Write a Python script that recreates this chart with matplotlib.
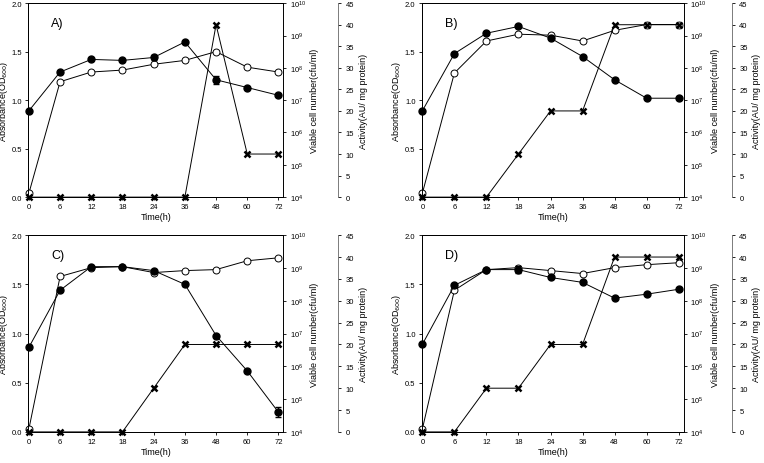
import numpy as np
import matplotlib.pyplot as plt
from matplotlib.ticker import LogLocator, NullLocator

plt.rcParams['font.family'] = ['Liberation Sans', 'DejaVu Sans']
plt.rcParams['font.size'] = 6

time_labels = ['0', '6', '12', '18', '24', '36', '48', '60', '72']

# viable cell number, log10(cfu/ml)  (filled circles)
cells_A = [6.67, 7.87, 8.26, 8.23, 8.32, 8.80, 7.63, 7.39, 7.15]
cells_B = [6.67, 8.44, 9.07, 9.28, 8.92, 8.35, 7.63, 7.06, 7.06]
cells_C = [6.58, 8.32, 9.04, 9.04, 8.92, 8.50, 6.94, 5.86, 4.60]
cells_D = [6.67, 8.47, 8.95, 8.95, 8.71, 8.56, 8.08, 8.20, 8.35]
cells_err_A = [0, 0, 0, 0, 0.08, 0, 0.12, 0, 0]
cells_err_B = [0, 0, 0, 0, 0, 0, 0.05, 0, 0]
cells_err_C = [0.06, 0, 0, 0, 0, 0.05, 0, 0, 0.15]
cells_err_D = [0, 0, 0, 0.1, 0, 0, 0, 0, 0]

# absorbance OD600  (open circles)
od_A = [0.04, 1.19, 1.29, 1.31, 1.37, 1.41, 1.50, 1.34, 1.29]
od_B = [0.04, 1.28, 1.61, 1.68, 1.67, 1.61, 1.72, 1.78, 1.78]
od_C = [0.03, 1.58, 1.67, 1.68, 1.62, 1.64, 1.65, 1.74, 1.77]
od_D = [0.03, 1.44, 1.65, 1.67, 1.64, 1.61, 1.67, 1.70, 1.72]

# activity AU/mg protein  (crosses)
act_A = [0, 0, 0, 0, 0, 0, 40, 10, 10]
act_B = [0, 0, 0, 10, 20, 20, 40, 40, 40]
act_C = [0, 0, 0, 0, 10, 20, 20, 20, 20]
act_D = [0, 0, 10, 10, 20, 20, 40, 40, 40]

# rect in figure fraction, third-axis offset in points
panels = [
    ('A)', cells_A, cells_err_A, od_A, act_A, [0.037, 0.573, 0.334, 0.418], 39.5),
    ('B)', cells_B, cells_err_B, od_B, act_B, [0.552, 0.573, 0.343, 0.418], 34.5),
    ('C)', cells_C, cells_err_C, od_C, act_C, [0.037, 0.067, 0.334, 0.424], 39.5),
    ('D)', cells_D, cells_err_D, od_D, act_D, [0.552, 0.067, 0.343, 0.424], 34.5),
]

fig = plt.figure(figsize=(7.64, 4.64), dpi=100)
x = np.arange(len(time_labels))

for label, cells, cerr, od, act, rect, offset in panels:
    ax = fig.add_axes(rect)
    ax2 = ax.twinx()
    ax3 = ax.twinx()
    ax3.spines['right'].set_position(('outward', offset))

    c = 10 ** np.array(cells)
    e = np.array(cerr)
    ax.plot(x, od, '-o', color='black', mfc='white', mec='black', ms=5,
            lw=0.7, mew=0.7, clip_on=False, zorder=3)
    ax2.errorbar(x, c, yerr=[c * (1 - 10 ** -e), c * (10 ** e - 1)],
                 fmt='-o', color='black', ms=5, lw=0.7, elinewidth=0.7,
                 capsize=2, clip_on=False, zorder=3)
    ax3.plot(x, act, '-x', color='black', ms=5, lw=0.7, mew=1.8,
             clip_on=False, zorder=3)

    ax.set_xlim(-0.02, 8.16)
    ax.set_ylim(0, 2.0)
    ax.set_yticks([0, 0.5, 1.0, 1.5, 2.0])
    ax.set_yticklabels(['0.0', '0.5', '1.0', '1.5', '2.0'])
    ax.set_xticks(x)
    ax.set_xticklabels(time_labels)
    ax.set_xlabel('Time(h)', fontsize=6.5, labelpad=1.5)
    ax.set_ylabel('Absorbance(OD$_{600}$)', fontsize=6.5, labelpad=1)

    ax2.set_yscale('log')
    ax2.set_ylim(1e4, 1e10)
    ax2.yaxis.set_major_locator(LogLocator(base=10, numticks=10))
    ax2.yaxis.set_minor_locator(NullLocator())
    ax2.set_ylabel('Viable cell number(cfu/ml)', fontsize=6.5, labelpad=3)

    ax3.set_ylim(0, 45)
    ax3.set_yticks(np.arange(0, 46, 5))
    ax3.set_ylabel('Activity(AU/ mg protein)', fontsize=6.5, labelpad=3)

    for a in (ax, ax2, ax3):
        a.tick_params(length=2.5, width=0.6, pad=2, labelsize=5.5)
        for s in a.spines.values():
            s.set_linewidth(0.6)
    ax3.tick_params(pad=3)
    ax3.spines['right'].set_color('0.4')

    ax.text(0.09, 0.93, label, transform=ax.transAxes, fontsize=9,
            va='top', ha='left')

fig.savefig('out.png', dpi=100)
